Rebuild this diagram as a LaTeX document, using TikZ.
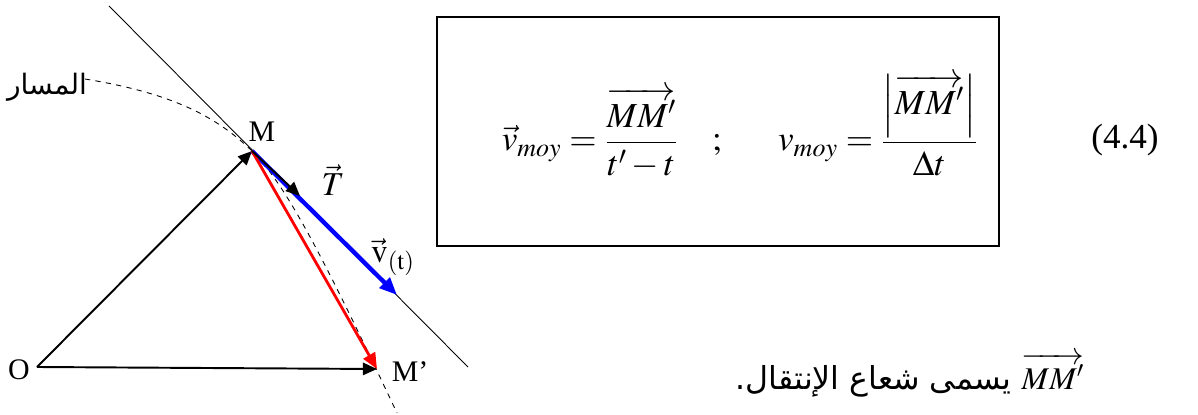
\documentclass[tikz,border=0pt]{standalone}
\usepackage{amsmath}
\usepackage{mathptmx}
\usepackage{fontspec}
\setmainfont{Liberation Serif}
\newfontfamily\arabicfont[Script=Arabic]{DejaVu Sans}
\TeXXeTstate=1
\usetikzlibrary{arrows.meta, positioning, calc}

\begin{document}
\begin{tikzpicture}[
  x=0.02cm, y=-0.02cm,
  font=\fontsize{17}{20}\selectfont,
  vec/.style={-{Triangle[length=8pt, width=7pt]}, line width=1.1pt},
  speed/.style={-{Triangle[length=10pt, width=8pt]}, line width=2.5pt, blue},
  displace/.style={-{Triangle[length=9pt, width=7.5pt]}, line width=1.6pt, red},
  arabic/.style={font=\fontsize{16}{20}\arabicfont},
  eq/.style={anchor=base, font=\fontsize{20}{24}\selectfont},
  box/.style={draw, line width=0.9pt, minimum width=11.24cm, minimum height=4.58cm}
]
\useasboundingbox (0,0) rectangle (1198,415);
% points
\coordinate (O) at (37,367);
\coordinate (M) at (252,151);
\coordinate (Mp) at (377,369);
\coordinate (tanA) at (109,6);
\coordinate (tanB) at (468,367);
\coordinate (Ttip) at (300,196);
\coordinate (vtip) at (397,295);
\coordinate (pathA) at (85,79);
\coordinate (pathB) at (397,413);
% labels
\node (lO) at (19,370) {O};
\node (lM) at (262,132) {M};
\node (lMp) at (410,372) {M’};
\node[font=\fontsize{19}{22}\selectfont] (lT) at (333,180) {$\vec{T}$};
\node[font=\fontsize{19}{22}\selectfont] (lv) at (393,257) {$\vec{\mathrm{v}}_{\mathrm{(t)}}$};
\node[arabic] (lpath) at (47,87) {\beginR المسار\endR};
% tangent and trajectory
\draw[line width=0.5pt] (tanA) -- (tanB);
\draw[dashed, line width=0.5pt] (pathA) .. controls (170,93) and (215,115) .. (M)
  .. controls (285,184) and (320,250) .. (pathB);
% vectors
\draw[vec] (O) -- (M);
\draw[vec] (O) -- (Mp);
\draw[speed] (M) -- (vtip);
\draw[displace] (M) -- (Mp);
\draw[vec] (M) -- (Ttip);
% formula
\node[box] (frame) at (718,131.5) {};
\node[eq] (eqA) at (590,151) {$\vec{v}_{moy} = \dfrac{\overrightarrow{MM'}}{t'-t}$};
\node[eq] (semi) at (717,151) {$;$};
\node[eq] (eqB) at (878,151) {$v_{moy} = \dfrac{\left|\overrightarrow{MM'}\right|}{\Delta t}$};
\node[eq] (num) at (1125,149) {(4.4)};
% sentence
\node[arabic, font=\fontsize{18}{22}\arabicfont] (note) at (910,375)
  {\beginR\beginL$\overrightarrow{MM'}$\endL{} يسمى شعاع الإنتقال.\endR};
\end{tikzpicture}
\end{document}
